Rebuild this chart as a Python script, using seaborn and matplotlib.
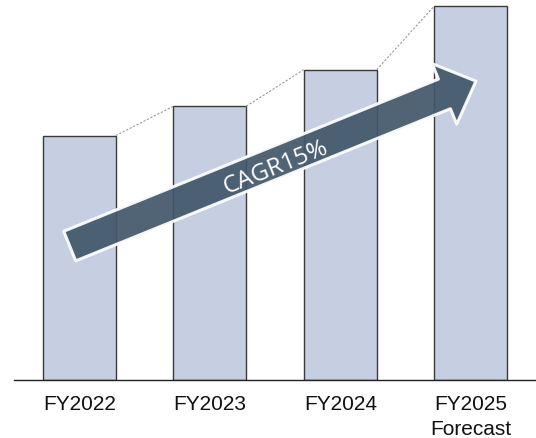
import seaborn as sns
import pandas as pd
import matplotlib.pyplot as plt
import numpy as np

# values (relative sales, arbitrary units)
years = ['FY2022', 'FY2023', 'FY2024', 'FY2025\nForecast']
sales = [100, 112, 127, 153]
cagr_label = 'CAGR15%'

sns.set_theme(style='white')
plt.rcParams['font.family'] = ['Liberation Sans', 'DejaVu Sans']

df = pd.DataFrame({'year': years, 'sales': sales})

fig = plt.figure(figsize=(5.36, 4.39), dpi=100)
ax = fig.add_axes([14 / 536, 58 / 439, 522 / 536, 381 / 439])

bar_w = 0.56
sns.barplot(data=df, x='year', y='sales', color='#c5cfe1', saturation=1,
            width=bar_w, edgecolor='#3a3a3a', linewidth=1.0, ax=ax)

ax.set_xlim(-0.5, 3.5)
ax.set_ylim(0, 155.9)

# dotted connectors between bar tops
for i in range(len(sales) - 1):
    ax.plot([i + bar_w / 2, i + 1 - bar_w / 2], [sales[i], sales[i + 1]],
            color='#9a9a9a', lw=0.8, ls=(0, (2, 1.5)), zorder=1)

# big growth arrow
ax.annotate('', xy=(3.04, 122.3), xytext=(-0.073, 54.8),
            arrowprops=dict(arrowstyle='simple,head_length=2.45,head_width=4.7,tail_width=2.3',
                            mutation_scale=10, facecolor='#43586c', edgecolor='white',
                            lw=2.2, alpha=0.93, shrinkA=0, shrinkB=0),
            zorder=5)
ax.text(1.503, 87.5, cagr_label, rotation=22, rotation_mode='anchor',
        ha='center', va='center', color='white', fontsize=17.5,
        family=['Open Sans', 'DejaVu Sans'], zorder=6)

sns.despine(ax=ax, left=True)
ax.spines['bottom'].set_color('#222222')
ax.spines['bottom'].set_linewidth(1.0)
ax.set_yticks([])
ax.set_xlabel('')
ax.set_ylabel('')
ax.tick_params(axis='x', length=0, pad=10, labelsize=15, colors='#111111')
for lab in ax.get_xticklabels():
    lab.set_linespacing(1.4)

plt.savefig('out.png', dpi=100)
